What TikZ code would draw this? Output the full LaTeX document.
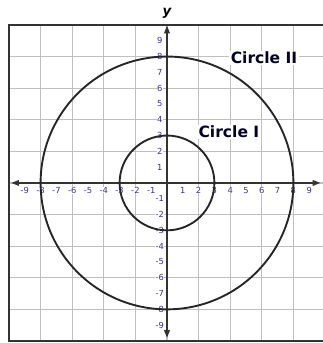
\documentclass[tikz,border=0pt]{standalone}
\usepackage{fontspec}
\setmainfont{DejaVu Sans}
\usetikzlibrary{arrows.meta}

\begin{document}
\begin{tikzpicture}[
  x=0.5cm, y=0.5cm,
  gridline/.style={draw=black!25, line width=1pt},
  frame/.style={draw=black!80, line width=1.8pt},
  ax/.style={draw=black!80, line width=1.2pt, {Triangle[length=2.4mm,width=1.8mm]}-{Triangle[length=2.4mm,width=1.8mm]}},
  circ/.style={draw=black!85, line width=1.7pt},
  ticklab/.style={font=\fontsize{7.5}{8}\selectfont, text=black!45!blue!60!gray,
               fill=white, inner sep=0.3pt},
  circlab/.style={font=\fontsize{14}{16}\selectfont\bfseries, text=black!85!blue,
               fill=white, inner sep=1.2pt}
]
\useasboundingbox (-10.57,-10.13) rectangle (9.87,11.58);
\clip (-10.57,-10.13) rectangle (9.87,11.58);

% ================= grid and frame =================
\draw[gridline] (-10,-10) grid (10,10);
\draw[frame] (-10,-10) rectangle (10,10);

% ================= tick labels =================
\foreach \i in {-9,...,-1,1,2,...,9} {
  \node[ticklab] (xl\i) at (\i,-0.45) {\i};
  \node[ticklab] (yl\i) at (-0.45,\i) {\i};
}

% ================= axes =================
\coordinate (xlo) at (-9.85,0);
\coordinate (xhi) at (9.7,0);
\coordinate (ylo) at (0,-9.8);
\coordinate (yhi) at (0,9.95);
\draw[ax] (xlo) -- (xhi);
\draw[ax] (ylo) -- (yhi);
\node[font=\fontsize{12}{14}\selectfont\bfseries\itshape] (ylab) at (0,10.75) {y};

% ================= circles =================
\coordinate (o) at (0,0);
\draw[circ] (o) circle[radius=3];
\draw[circ] (o) circle[radius=8];
\node[circlab] (cone) at (3.92,3.23) {Circle I};
\node[circlab] (ctwo) at (6.14,7.9) {Circle II};
\end{tikzpicture}
\end{document}
